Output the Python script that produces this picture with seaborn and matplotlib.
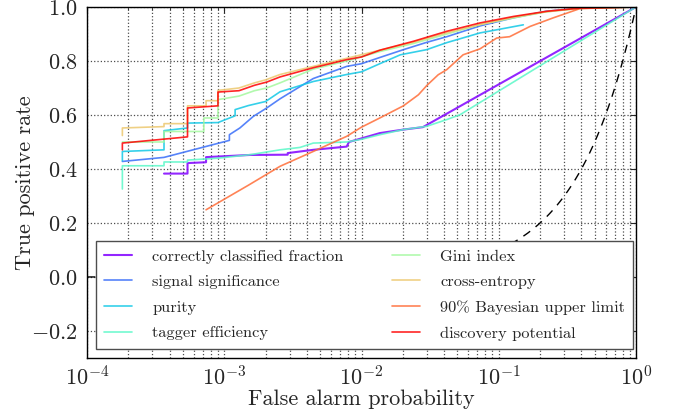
import numpy as np
import pandas as pd
import matplotlib
matplotlib.use("Agg")
import matplotlib.pyplot as plt
from matplotlib.ticker import FuncFormatter, LogLocator, NullFormatter
import seaborn as sns

# ---------------- data ----------------
labels = [
    "correctly classified fraction",
    "signal significance",
    "purity",
    "tagger efficiency",
    "Gini index",
    "cross-entropy",
    "90% Bayesian upper limit",
    "discovery potential",
]

ccf_x = [3.64e-4, 5.4e-4, 5.4e-4, 7.37e-4, 7.37e-4, 1.54e-3, 2.9e-3, 2.9e-3, 4.45e-3, 7.8e-3, 8.1e-3,
         1.36e-2, 2.02e-2, 2.8e-2, 1.0]
ccf_y = [0.383, 0.383, 0.422, 0.425, 0.444, 0.452, 0.453, 0.459, 0.471, 0.483, 0.50,
         0.533, 0.546, 0.555, 1.0]

sig_x = [1.81e-4, 3.64e-4, 1.09e-3, 1.09e-3, 1.30e-3, 1.63e-3, 2.04e-3, 2.55e-3, 4.45e-3, 7.8e-3, 1.0e-2,
         1.36e-2, 2.02e-2, 2.98e-2, 4.18e-2, 7.3e-2, 0.128, 0.22, 0.39, 1.0]
sig_y = [0.428, 0.443, 0.506, 0.527, 0.552, 0.595, 0.626, 0.66, 0.735, 0.78, 0.79,
         0.813, 0.842, 0.869, 0.89, 0.93, 0.96, 0.984, 0.996, 1.0]

pur_x = [1.81e-4, 1.81e-4, 3.64e-4, 3.64e-4, 5.4e-4, 5.4e-4, 9.0e-4, 1.2e-3, 1.2e-3, 1.5e-3, 2.0e-3,
         2.55e-3, 4.45e-3, 7.8e-3, 1.0e-2, 1.36e-2, 1.92e-2, 2.98e-2, 4.18e-2, 7.3e-2, 0.151]
pur_y = [0.431, 0.465, 0.471, 0.542, 0.552, 0.57, 0.572, 0.597, 0.62, 0.635, 0.65,
         0.686, 0.724, 0.75, 0.76, 0.79, 0.823, 0.842, 0.868, 0.904, 0.934]

tag_x = [1.81e-4, 1.81e-4, 3.64e-4, 3.64e-4, 5.4e-4, 5.4e-4, 9.0e-4, 1.54e-3, 2.55e-3, 3.57e-3, 4.45e-3,
         7.8e-3, 1.0e-2, 1.36e-2, 2.02e-2, 2.98e-2, 4.18e-2, 5.22e-2, 1.0]
tag_y = [0.326, 0.412, 0.412, 0.426, 0.426, 0.433, 0.44, 0.453, 0.471, 0.48, 0.496,
         0.50, 0.51, 0.527, 0.546, 0.558, 0.583, 0.601, 1.0]

gini_x = [1.81e-4, 3.64e-4, 3.64e-4, 7.1e-4, 7.1e-4, 9.0e-4, 9.0e-4, 1.28e-3, 1.66e-3, 2.04e-3, 2.55e-3,
          4.45e-3, 7.8e-3, 1.36e-2, 2.4e-2, 4.2e-2, 7.3e-2, 0.13, 0.22, 0.39, 1.0]
gini_y = [0.50, 0.50, 0.539, 0.539, 0.589, 0.589, 0.657, 0.67, 0.69, 0.70, 0.719,
          0.77, 0.80, 0.835, 0.865, 0.90, 0.935, 0.96, 0.982, 0.995, 1.0]

ce_x = [1.81e-4, 1.81e-4, 3.64e-4, 3.64e-4, 5.4e-4, 5.4e-4, 7.37e-4, 7.37e-4, 9.0e-4, 9.0e-4, 1.28e-3,
        1.66e-3, 2.0e-3, 2.55e-3, 4.45e-3, 7.8e-3, 1.36e-2, 2.4e-2, 4.2e-2, 7.3e-2, 0.128, 0.22, 0.39, 1.0]
ce_y = [0.524, 0.552, 0.557, 0.568, 0.568, 0.634, 0.634, 0.653, 0.653, 0.691, 0.70,
        0.719, 0.73, 0.75, 0.78, 0.81, 0.84, 0.87, 0.905, 0.935, 0.962, 0.982, 0.995, 1.0]

bay_x = [7.37e-4, 1.5e-3, 2.55e-3, 4.45e-3, 7.8e-3, 1.0e-2, 1.36e-2, 2.02e-2, 2.6e-2, 3.0e-2, 3.62e-2,
         4.18e-2, 5.5e-2, 7.3e-2, 9.66e-2, 0.12, 0.169, 0.25, 0.39, 1.0]
bay_y = [0.249, 0.34, 0.41, 0.465, 0.521, 0.555, 0.589, 0.634, 0.675, 0.71, 0.749,
         0.768, 0.823, 0.845, 0.885, 0.89, 0.928, 0.96, 0.994, 1.0]

disc_x = [1.81e-4, 1.81e-4, 5.4e-4, 5.4e-4, 9.0e-4, 9.0e-4, 1.28e-3, 1.66e-3, 2.04e-3, 2.55e-3, 4.45e-3,
          7.8e-3, 1.0e-2, 1.36e-2, 2.39e-2, 4.18e-2, 7.3e-2, 0.128, 0.223, 0.39, 1.0]
disc_y = [0.471, 0.496, 0.519, 0.626, 0.634, 0.685, 0.69, 0.71, 0.722, 0.741, 0.775,
          0.805, 0.815, 0.84, 0.873, 0.91, 0.941, 0.965, 0.984, 0.996, 1.0]

curves_x = [ccf_x, sig_x, pur_x, tag_x, gini_x, ce_x, bay_x, disc_x]
curves_y = [ccf_y, sig_y, pur_y, tag_y, gini_y, ce_y, bay_y, disc_y]

# chance line y = x
chance_x = np.logspace(-4, 0, 300)

# ---------------- figure ----------------
sns.set_style("white")
plt.rcParams["font.family"] = "serif"
plt.rcParams["font.serif"] = ["cmr10", "DejaVu Serif"]
plt.rcParams["mathtext.fontset"] = "cm"
plt.rcParams["axes.unicode_minus"] = False
plt.rcParams["axes.formatter.use_mathtext"] = True

rows = []
for lab, xs, ys in zip(labels, curves_x, curves_y):
    for i, (a, b) in enumerate(zip(xs, ys)):
        rows.append({"curve": lab, "fap": a, "tpr": b, "order": i})
df = pd.DataFrame(rows)

cmap = plt.get_cmap("rainbow")
palette = {lab: cmap(v) for lab, v in zip(labels, np.linspace(0, 1, len(labels)))}

fig = plt.figure(figsize=(6.81, 4.11), dpi=100)
ax = fig.add_axes([87 / 681, 53 / 411, 549 / 681, 351 / 411])

for lab in labels:
    sub = df[df.curve == lab]
    lw = 1.5 if lab == labels[0] else 1.2
    sns.lineplot(data=sub, x="fap", y="tpr", color=palette[lab], sort=False, estimator=None,
                 ax=ax, lw=lw, alpha=0.85, label=lab)

sns.lineplot(x=chance_x, y=chance_x, color="black", ax=ax, lw=1.0, sort=False, estimator=None)
ax.lines[-1].set_dashes((6, 5))

ax.set_xscale("log")
ax.set_xlim(1e-4, 1.0)
ax.set_ylim(-0.3, 1.0)
ax.set_yticks(np.arange(-0.2, 1.01, 0.2))
ax.yaxis.set_major_formatter(FuncFormatter(lambda v, p: "$%.1f$" % (0.0 if abs(v) < 1e-9 else v)))
ax.xaxis.set_major_locator(LogLocator(base=10, numticks=10))
ax.xaxis.set_minor_locator(LogLocator(base=10, subs=np.arange(2, 10), numticks=20))
ax.xaxis.set_minor_formatter(NullFormatter())

ax.grid(True, which="major", axis="both", color="0.3", linestyle=":", lw=0.9)
ax.grid(True, which="minor", axis="x", color="0.3", linestyle=":", lw=0.9)

ax.tick_params(which="both", direction="in", top=True, right=True, labelsize=16)
ax.tick_params(axis="x", pad=5)
ax.tick_params(axis="y", pad=7)
ax.tick_params(which="major", length=4, width=0.8)
ax.tick_params(which="minor", length=2, width=0.6)
for s in ax.spines.values():
    s.set_color("black")
    s.set_linewidth(1.0)

ax.set_xlabel("False alarm probability", fontsize=16, labelpad=0)
ax.set_ylabel("True positive rate", fontsize=16, labelpad=-3)

handles, labs = ax.get_legend_handles_labels()
leg = ax.legend(handles[:8], labs[:8], ncol=2, loc="lower left", mode="expand",
                bbox_to_anchor=(0.016, 0.026, 0.979, 0.308), borderaxespad=0,
                fontsize=11.8, frameon=True, fancybox=False, framealpha=1,
                handlelength=1.7, handletextpad=1.25, labelspacing=0.68, borderpad=0.5,
                columnspacing=2.0)
leg.get_frame().set_edgecolor("0.3")
leg.get_frame().set_linewidth(1.0)
leg.set_zorder(10)

fig.savefig("out.png", dpi=100)
